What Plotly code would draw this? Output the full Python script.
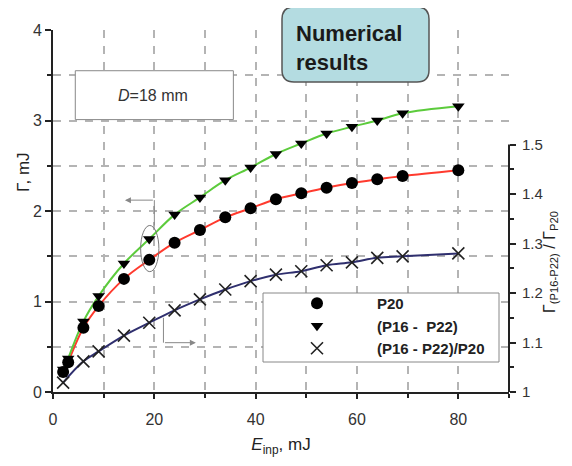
import plotly.graph_objects as go

# ---- data ----
e_inp = [2, 3, 6, 9, 14, 19, 24, 29, 34, 39, 44, 49, 54, 59, 64, 69, 80]
gamma_p20 = [0.22, 0.33, 0.71, 0.95, 1.25, 1.46, 1.65, 1.79, 1.93, 2.03, 2.13,
             2.195, 2.257, 2.31, 2.35, 2.386, 2.45]
gamma_p16_p22 = [0.25, 0.37, 0.78, 1.06, 1.42, 1.69, 1.96, 2.15, 2.34, 2.48, 2.63,
                 2.746, 2.856, 2.93, 3.0, 3.08, 3.157]
e_ratio = [2, 6, 9, 14, 19, 24, 29, 34, 39, 44, 49, 54, 59, 64, 69, 80]
ratio = [1.019, 1.062, 1.082, 1.114, 1.14, 1.165, 1.187, 1.207, 1.224, 1.237,
         1.244, 1.256, 1.262, 1.271, 1.274, 1.280]

x_ticks = [0, 20, 40, 60, 80]
y_ticks = [0, 1, 2, 3, 4]
y2_ticks = [1, 1.1, 1.2, 1.3, 1.4, 1.5]
y2_minor = [1.05, 1.15, 1.25, 1.35, 1.45]

RED = "#ff3a2e"
GREEN = "#5ccb3c"
NAVY = "#2f2f6e"
GRID = "#b4b4b4"
FONT = "Liberation Sans, Arial, sans-serif"

# plot area in screenshot pixels: left 53, right 509, top 30, bottom 392
PL, PR, PT, PB = 53, 509, 30, 392
PW, PH = PR - PL, PB - PT


def px(xp):
    return (xp - PL) / PW


def py(yp):
    return (PB - yp) / PH


fig = go.Figure()

# fitted curves
fig.add_trace(go.Scatter(x=e_inp[1:], y=gamma_p20[1:], mode="lines",
                         line=dict(color=RED, width=2, shape="spline", smoothing=1.0),
                         showlegend=False, hoverinfo="skip"))
fig.add_trace(go.Scatter(x=e_inp[1:], y=gamma_p16_p22[1:], mode="lines",
                         line=dict(color=GREEN, width=2, shape="spline", smoothing=1.0),
                         showlegend=False, hoverinfo="skip"))
fig.add_trace(go.Scatter(x=e_ratio, y=ratio, mode="lines", yaxis="y2",
                         line=dict(color=NAVY, width=2, shape="spline", smoothing=1.0),
                         showlegend=False, hoverinfo="skip"))

# markers
fig.add_trace(go.Scatter(x=e_inp, y=gamma_p20, mode="markers", name="P20",
                         marker=dict(symbol="circle", size=12, color="black")))
fig.add_trace(go.Scatter(x=e_inp, y=gamma_p16_p22, mode="markers", name="(P16 -  P22)",
                         marker=dict(symbol="triangle-down", size=11, color="black")))
fig.add_trace(go.Scatter(x=e_ratio, y=ratio, mode="markers", name="(P16 - P22)/P20",
                         yaxis="y2",
                         marker=dict(symbol="x-thin", size=12, color="#222",
                                     line=dict(color="#222", width=1.6))))

tickfont = dict(family=FONT, size=16, color="#333")

# page is drawn with an 8px body margin, so the figure is offset by 8px
fig.update_layout(
    width=572, height=466,
    margin=dict(l=PL - 8, r=572 - (PR - 8), t=PT - 8, b=466 - (PB - 8)),
    paper_bgcolor="white", plot_bgcolor="white",
    font=dict(family=FONT, color="#222"),
    xaxis=dict(range=[0, 90], tickvals=x_ticks, ticks="outside", ticklen=5,
               tickwidth=1.5, tickcolor="#222", ticklabelstandoff=7,
               showline=True, linecolor="#222", linewidth=2,
               showgrid=True, gridcolor=GRID, gridwidth=1.5, griddash="8px,8px",
               zeroline=False, tickfont=tickfont, automargin=False,
               minor=dict(dtick=10, tick0=0, ticks="outside", ticklen=4,
                          tickcolor="#222", showgrid=True, gridcolor=GRID,
                          gridwidth=1.5, griddash="8px,8px"),
               title=dict(text="<i>E</i><sub>inp</sub>, mJ",
                          font=dict(family=FONT, size=17, color="#222"),
                          standoff=11)),
    yaxis=dict(range=[0, 4], tickvals=y_ticks, ticks="outside", ticklen=6,
               tickwidth=1.5, tickcolor="#222",
               showline=True, linecolor="#222", linewidth=2,
               showgrid=True, gridcolor=GRID, gridwidth=1.5, griddash="8px,8px",
               zeroline=False, tickfont=tickfont, automargin=False,
               minor=dict(dtick=0.5, tick0=0, ticks="outside", ticklen=4,
                          tickcolor="#222", showgrid=True, gridcolor=GRID,
                          gridwidth=1.5, griddash="8px,8px")),
    yaxis2=dict(range=[1, 1 + PH / 495.0], overlaying="y", anchor="x", side="right",
                tickvals=y2_ticks, ticks="outside", ticklen=6, tickwidth=1.5,
                tickcolor="#222", showline=False, showgrid=False, zeroline=False,
                automargin=False, ticklabelstandoff=3,
                tickfont=dict(family=FONT, size=15, color="#333"),
                minor=dict(tickmode="array", tickvals=y2_minor, ticks="outside",
                           ticklen=4, tickcolor="#222")),
    legend=dict(x=px(257), y=py(287), xanchor="left", yanchor="top",
                bgcolor="rgba(0,0,0,0)", borderwidth=0, itemwidth=110,
                font=dict(family=FONT, size=15, color="#222", weight="bold"),
                tracegroupgap=0),
    showlegend=True,
)

# right axis line (only spans 1 .. 1.5)
fig.add_shape(type="line", xref="paper", yref="y2", x0=1, x1=1, y0=1, y1=1.5,
              line=dict(color="#222", width=2))

# legend frame (white, hides the grid behind the legend)
fig.add_shape(type="rect", xref="paper", yref="paper",
              x0=px(263), x1=px(499), y0=py(362), y1=py(293),
              line=dict(color="#888", width=1), fillcolor="white", layer="above")

# D = 18 mm box
fig.add_shape(type="rect", xref="x", yref="y", x0=4.4, x1=35.6, y0=3.01, y1=3.55,
              line=dict(color="#888", width=1), fillcolor="white", layer="above")
fig.add_annotation(x=19.8, y=3.28, xref="x", yref="y", text="<i>D</i>=18 mm",
                   showarrow=False, xanchor="center",
                   font=dict(family=FONT, size=16, color="#333"))

# Numerical results rounded box (paper coords)
bx0, bx1 = px(282), px(429)
by0, by1 = py(82), py(7)
rx, ry = 12 / PW, 12 / PH
path = (f"M{bx0+rx},{by1} L{bx1-rx},{by1} Q{bx1},{by1} {bx1},{by1-ry} "
        f"L{bx1},{by0+ry} Q{bx1},{by0} {bx1-rx},{by0} L{bx0+rx},{by0} "
        f"Q{bx0},{by0} {bx0},{by0+ry} L{bx0},{by1-ry} Q{bx0},{by1} {bx0+rx},{by1} Z")
fig.add_shape(type="path", xref="paper", yref="paper", path=path,
              fillcolor="#b4dce1", line=dict(color="#555", width=1.5), layer="above")
fig.add_annotation(x=px(294), y=py(48), xref="paper", yref="paper",
                   text="<b>Numerical<br>results</b>", showarrow=False, align="left",
                   xanchor="left", yanchor="middle",
                   font=dict(family=FONT, size=22, color="#1a1a1a"))

# axis titles
fig.add_annotation(x=px(23), y=py(172), xref="paper", yref="paper",
                   text="Γ, mJ", textangle=-90, showarrow=False,
                   xanchor="center", yanchor="middle",
                   font=dict(family=FONT, size=17, color="#222"))
fig.add_annotation(x=px(551), y=py(262), xref="paper", yref="paper",
                   text="Γ<sub>(P16-P22)</sub> / Γ<sub>P20</sub>", textangle=-90,
                   showarrow=False, xanchor="center", yanchor="middle",
                   font=dict(family=FONT, size=16, color="#222"))

# ellipse around x=19 points and pointer arrows
fig.add_shape(type="circle", xref="x", yref="y", x0=17.3, x1=20.9, y0=1.33, y1=1.84,
              line=dict(color="#777", width=1))
fig.add_shape(type="line", xref="x", yref="y", x0=20.0, x1=20.0, y0=1.84, y1=2.12,
              line=dict(color="#888", width=1))
fig.add_annotation(x=14.2, y=2.12, ax=20.0, ay=2.12, xref="x", yref="y",
                   axref="x", ayref="y", text="", showarrow=True, arrowhead=2,
                   arrowsize=1.2, arrowwidth=1, arrowcolor="#888")
fig.add_shape(type="line", xref="x", yref="y", x0=21.8, x1=21.8, y0=0.82, y1=0.545,
              line=dict(color="#888", width=1))
fig.add_annotation(x=28.2, y=0.545, ax=21.8, ay=0.545, xref="x", yref="y",
                   axref="x", ayref="y", text="", showarrow=True, arrowhead=2,
                   arrowsize=1.2, arrowwidth=1, arrowcolor="#888")

fig.write_html("out.html")
